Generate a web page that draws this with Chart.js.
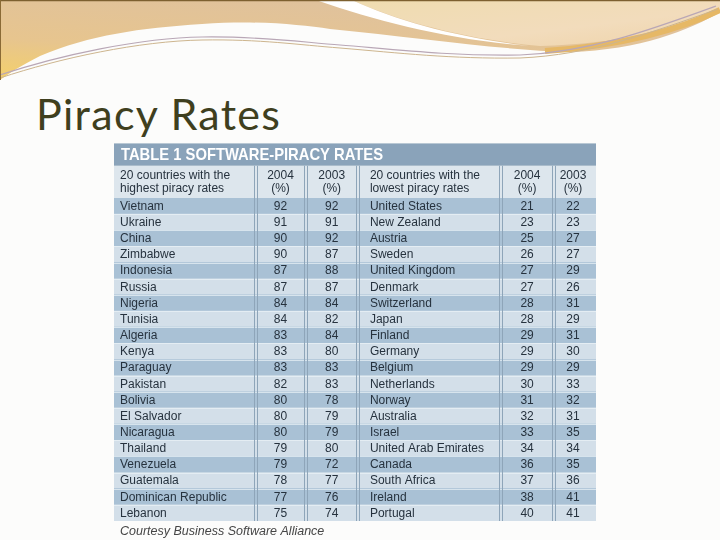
<!DOCTYPE html>
<html><head><meta charset="utf-8">
<script src="https://cdn.jsdelivr.net/npm/chart.js@4.4.0/dist/chart.umd.min.js"></script>
<style>
html,body{margin:0;padding:0;background:#fff;}
#wrap{position:relative;width:720px;height:540px;overflow:hidden;background:#fcfcfb;}
#deco{position:absolute;left:0;top:0;}
#slideTitle{position:absolute;left:36px;top:89px;font-family:Lato,"Open Sans",sans-serif;font-size:43px;line-height:50px;letter-spacing:1.3px;color:#3f3f1e;white-space:nowrap;}
canvas{position:absolute;left:0;top:0;}
</style></head><body>
<div id="wrap">
<svg id="deco" width="720" height="100" viewBox="0 0 720 100">
  <defs>
    <linearGradient id="gTan" x1="0" y1="1" x2="0.7" y2="0">
      <stop offset="0" stop-color="#f4d06a"/>
      <stop offset="0.35" stop-color="#e7c58e"/>
      <stop offset="1" stop-color="#dec1a0"/>
    </linearGradient>
    <linearGradient id="gPeach" x1="0" y1="0" x2="1" y2="1">
      <stop offset="0" stop-color="#efdcb0"/>
      <stop offset="0.6" stop-color="#f2dcbc"/>
      <stop offset="1" stop-color="#efd3a8"/>
    </linearGradient>
  </defs>
  <path d="M0,0 L720,0 L720,12 C690,30 640,50 570,52 C500,50 420,38 330,29 C300,25 260,20 202,24 C140,28 90,35 40,56 C20,66 8,74 0,80 Z" fill="url(#gTan)"/>
  <path d="M352,0 L720,0 L720,10 C680,28 620,44 540,46 C470,40 400,22 352,0 Z" fill="url(#gPeach)"/>
  <path d="M316,0 L352,0 C400,22 460,38 530,46 C450,40 380,22 316,0 Z" fill="#ffffff"/>
  <path d="M545,51 C620,46 680,30 720,10" stroke="#e6b866" stroke-width="6" fill="none"/>
  <path d="M0,75 C60,55 140,38 202,37 C260,36 300,42 340,45 C400,50 450,56 520,55 C590,52 650,30 716,6" stroke="#b9a7b6" stroke-width="1.2" fill="none"/>
  <path d="M0,78 C60,58 140,41 202,40 C260,39 300,45 340,48 C400,53 450,59 520,58 C590,55 650,33 718,9" stroke="#cdb58e" stroke-width="1" fill="none"/>
  <line x1="0" y1="0.5" x2="720" y2="0.5" stroke="#7d6030" stroke-width="1.5"/>
  <line x1="0.5" y1="0" x2="0.5" y2="80" stroke="#8a6a35" stroke-width="1"/>
</svg>
<div id="slideTitle">Piracy Rates</div>
<canvas id="c" width="720" height="540"></canvas>
</div>
<script>
// ---- data ----
const tableTitle = "TABLE 1 SOFTWARE-PIRACY RATES";
const highHeader = ["20 countries with the", "highest piracy rates"];
const lowHeader = ["20 countries with the", "lowest piracy rates"];
const yearHeaders = ["2004", "2003"];
const unitLabel = "(%)";
const highCountries = ["Vietnam","Ukraine","China","Zimbabwe","Indonesia","Russia","Nigeria","Tunisia","Algeria","Kenya","Paraguay","Pakistan","Bolivia","El Salvador","Nicaragua","Thailand","Venezuela","Guatemala","Dominican Republic","Lebanon"];
const high2004 = [92,91,90,90,87,87,84,84,83,83,83,82,80,80,80,79,79,78,77,75];
const high2003 = [92,91,92,87,88,87,84,82,84,80,83,83,78,79,79,80,72,77,76,74];
const lowCountries = ["United States","New Zealand","Austria","Sweden","United Kingdom","Denmark","Switzerland","Japan","Finland","Germany","Belgium","Netherlands","Norway","Australia","Israel","United Arab Emirates","Canada","South Africa","Ireland","Portugal"];
const low2004 = [21,23,25,26,27,27,28,28,29,29,29,30,31,32,33,34,36,37,38,40];
const low2003 = [22,23,27,27,29,26,31,29,31,30,29,33,32,31,35,34,35,36,41,41];
const sourceNote = "Courtesy Business Software Alliance";

// ---- style ----
const C = {
  titleBar: "#8aa3ba", header: "#dde6ed", dark: "#a9c1d5", light: "#d3dfe9",
  text: "#26323e", rule: "#8ea5b9"
};
const COLX = { leftName: 0.0125, h04: 0.3454, h03: 0.4517, rightName: 0.531, l04: 0.857, l03: 0.9523 };
const RULES = [0.2936, 0.3977, 0.5056, 0.8019, 0.9112];
const FONT = '"Liberation Sans", Arial, sans-serif';

const tablePlugin = {
  id: "tablePlugin",
  beforeDatasetsDraw(chart) {
    const { ctx, chartArea: a, scales: { x } } = chart;
    const n = highCountries.length;
    const rowH = (a.bottom - a.top) / n;
    const headTop = a.top - 2 * rowH;
    const barTop = headTop - 1.38 * rowH;
    const L = x.getPixelForValue(0), R = x.getPixelForValue(1);
    ctx.save();
    ctx.fillStyle = C.header;
    ctx.fillRect(L, headTop, R - L, a.top - headTop);
    ctx.fillStyle = C.titleBar;
    ctx.fillRect(L, barTop, R - L, headTop - barTop);
    ctx.fillStyle = "#ffffff";
    ctx.font = "bold 17px " + FONT;
    ctx.textBaseline = "middle";
    const w = ctx.measureText(tableTitle).width;
    ctx.translate(L + 7, (barTop + headTop) / 2 + 0.5);
    ctx.scale(262 / w, 1);
    ctx.fillText(tableTitle, 0, 0);
    ctx.restore();
  },
  afterDatasetsDraw(chart) {
    const { ctx, chartArea: a, scales: { x, y } } = chart;
    const n = highCountries.length;
    const rowH = (a.bottom - a.top) / n;
    const headTop = a.top - 2 * rowH;
    ctx.save();
    ctx.strokeStyle = "rgba(235,242,247,0.7)";
    ctx.lineWidth = 1;
    for (let i = 1; i < n; i++) {
      const yy = Math.round(a.top + i * rowH) + 0.5;
      ctx.beginPath(); ctx.moveTo(a.left, yy); ctx.lineTo(a.right, yy); ctx.stroke();
    }
    ctx.strokeStyle = C.rule;
    RULES.forEach(f => {
      const cx = x.getPixelForValue(f);
      [-1.5, 1.5].forEach(d => {
        const xx = Math.round(cx + d) + 0.5;
        ctx.beginPath(); ctx.moveTo(xx, headTop); ctx.lineTo(xx, a.bottom); ctx.stroke();
      });
    });
    ctx.fillStyle = C.text;
    ctx.font = "12px " + FONT;
    ctx.textBaseline = "middle";
    const h1 = headTop + 9.5, h2 = headTop + 23;
    ctx.textAlign = "left";
    ctx.fillText(highHeader[0], x.getPixelForValue(COLX.leftName), h1);
    ctx.fillText(highHeader[1], x.getPixelForValue(COLX.leftName), h2);
    ctx.fillText(lowHeader[0], x.getPixelForValue(COLX.rightName), h1);
    ctx.fillText(lowHeader[1], x.getPixelForValue(COLX.rightName), h2);
    ctx.textAlign = "center";
    [[COLX.h04, yearHeaders[0]], [COLX.h03, yearHeaders[1]], [COLX.l04, yearHeaders[0]], [COLX.l03, yearHeaders[1]]].forEach(([f, t]) => {
      ctx.fillText(t, x.getPixelForValue(f), h1);
      ctx.fillText(unitLabel, x.getPixelForValue(f), h2);
    });
    for (let i = 0; i < n; i++) {
      const yy = y.getPixelForValue(i) + 0.5;
      ctx.textAlign = "left";
      ctx.fillText(highCountries[i], x.getPixelForValue(COLX.leftName), yy);
      ctx.fillText(lowCountries[i], x.getPixelForValue(COLX.rightName), yy);
      ctx.textAlign = "center";
      ctx.fillText(String(high2004[i]), x.getPixelForValue(COLX.h04), yy);
      ctx.fillText(String(high2003[i]), x.getPixelForValue(COLX.h03), yy);
      ctx.fillText(String(low2004[i]), x.getPixelForValue(COLX.l04), yy);
      ctx.fillText(String(low2003[i]), x.getPixelForValue(COLX.l03), yy);
    }
    ctx.textAlign = "left";
    ctx.fillStyle = "#454545";
    ctx.font = "italic 12.5px " + FONT;
    ctx.fillText(sourceNote, x.getPixelForValue(COLX.leftName), a.bottom + 10.5);
    ctx.restore();
  }
};

new Chart(document.getElementById("c"), {
  type: "bar",
  data: {
    labels: highCountries,
    datasets: [{
      label: "rows",
      data: highCountries.map(() => [0, 1]),
      backgroundColor: highCountries.map((_, i) => (i % 2 === 0 ? C.dark : C.light)),
      borderWidth: 0,
      barPercentage: 1,
      categoryPercentage: 1
    }]
  },
  options: {
    indexAxis: "y",
    responsive: false,
    animation: false,
    events: [],
    layout: { padding: { left: 114, right: 124, top: 198, bottom: 19 } },
    scales: {
      x: { type: "linear", min: 0, max: 1, display: false },
      y: { type: "category", display: false, offset: true }
    },
    plugins: { legend: { display: false }, tooltip: { enabled: false }, title: { display: false } }
  },
  plugins: [tablePlugin]
});
</script>
</body></html>
